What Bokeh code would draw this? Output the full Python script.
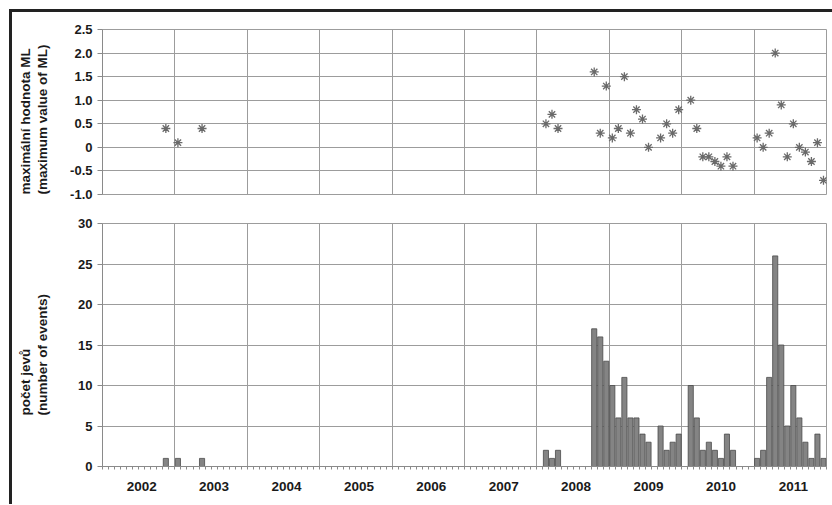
from bokeh.plotting import figure
from bokeh.models import ColumnDataSource, FixedTicker, Grid, Range1d, Title
from bokeh.layouts import column
from bokeh.embed import file_html
from bokeh.resources import INLINE

# ---------------- data ----------------
years = [2002, 2003, 2004, 2005, 2006, 2007, 2008, 2009, 2010, 2011]
year_labels = ["2002", "2003", "2004", "2005", "2006", "2007", "2008", "2009", "2010", "2011"]

# monthly number of events (Jan..Dec)
events_2002 = [0, 0, 0, 0, 0, 0, 0, 0, 0, 0, 1, 0]
events_2003 = [1, 0, 0, 0, 1, 0, 0, 0, 0, 0, 0, 0]
events_2004 = [0, 0, 0, 0, 0, 0, 0, 0, 0, 0, 0, 0]
events_2005 = [0, 0, 0, 0, 0, 0, 0, 0, 0, 0, 0, 0]
events_2006 = [0, 0, 0, 0, 0, 0, 0, 0, 0, 0, 0, 0]
events_2007 = [0, 0, 0, 0, 0, 0, 0, 0, 0, 0, 0, 0]
events_2008 = [0, 2, 1, 2, 0, 0, 0, 0, 0, 17, 16, 13]
events_2009 = [10, 6, 11, 6, 6, 4, 3, 0, 5, 2, 3, 4]
events_2010 = [0, 10, 6, 2, 3, 2, 1, 4, 2, 0, 0, 0]
events_2011 = [1, 2, 11, 26, 15, 5, 10, 6, 3, 1, 4, 1]

# maximum ML per month
ml_months = ["2002-11", "2003-01", "2003-05",
             "2008-02", "2008-03", "2008-04", "2008-10", "2008-11", "2008-12",
             "2009-01", "2009-02", "2009-03", "2009-04", "2009-05", "2009-06", "2009-07",
             "2009-09", "2009-10", "2009-11", "2009-12",
             "2010-02", "2010-03", "2010-04", "2010-05", "2010-06", "2010-07", "2010-08", "2010-09",
             "2011-01", "2011-02", "2011-03", "2011-04", "2011-05", "2011-06", "2011-07",
             "2011-08", "2011-09", "2011-10", "2011-11", "2011-12"]
ml_values = [0.4, 0.1, 0.4,
             0.5, 0.7, 0.4, 1.6, 0.3, 1.3,
             0.2, 0.4, 1.5, 0.3, 0.8, 0.6, 0.0,
             0.2, 0.5, 0.3, 0.8,
             1.0, 0.4, -0.2, -0.2, -0.3, -0.4, -0.2, -0.4,
             0.2, 0.0, 0.3, 2.0, 0.9, -0.2, 0.5,
             0.0, -0.1, -0.3, 0.1, -0.7]

ml_ticks = [-1.0, -0.5, 0.0, 0.5, 1.0, 1.5, 2.0, 2.5]
ml_tick_labels = ["-1.0", "-0.5", "0", "0.5", "1.0", "1.5", "2.0", "2.5"]
count_ticks = [0, 5, 10, 15, 20, 25, 30]

# ---------------- derived ----------------
all_events = (events_2002 + events_2003 + events_2004 + events_2005 + events_2006
              + events_2007 + events_2008 + events_2009 + events_2010 + events_2011)
n_months = len(all_events)
bar_x = [i + 0.5 for i, v in enumerate(all_events) if v > 0]
bar_top = [v for v in all_events if v > 0]


def month_pos(label):
    y, m = label.split("-")
    return (int(y) - years[0]) * 12 + int(m) - 1 + 0.5


ml_x = [month_pos(m) for m in ml_months]
year_bounds = [12 * k for k in range(1, len(years))]
year_centers = [12 * k + 6.5 for k in range(len(years))]
month_bounds = list(range(0, n_months + 1))

GRID = "#9c9c9c"
AXIS = "#8a8a8a"
TXT = "#1a1a1a"
FONT = "Liberation Sans"

W = 820

# ---------------- top: maximum ML ----------------
p1 = figure(width=W, height=192, x_range=Range1d(0, n_months), y_range=Range1d(-1.0, 2.5),
            x_axis_type=None, output_backend="svg", toolbar_location=None, title=None,
            min_border_left=90, min_border_right=6, min_border_top=17, min_border_bottom=10)
p1.yaxis.ticker = FixedTicker(ticks=ml_ticks)
p1.yaxis.major_label_overrides = {t: l for t, l in zip(ml_ticks, ml_tick_labels)}
p1.ygrid.grid_line_color = GRID
p1.add_layout(Grid(dimension=0, ticker=FixedTicker(ticks=year_bounds), grid_line_color=GRID))
p1.scatter(x=ml_x, y=ml_values, marker="asterisk", size=9, line_color="#6a6a6a", line_width=1.3)

# ---------------- bottom: number of events ----------------
p2 = figure(width=W, height=300, x_range=p1.x_range, y_range=Range1d(0, 30),
            output_backend="svg", toolbar_location=None, title=None,
            min_border_left=90, min_border_right=6, min_border_top=19, min_border_bottom=38)
p2.yaxis.ticker = FixedTicker(ticks=count_ticks)
p2.xaxis.ticker = FixedTicker(ticks=year_centers, minor_ticks=month_bounds)
p2.xaxis.major_label_overrides = {c: l for c, l in zip(year_centers, year_labels)}
p2.xgrid.visible = False
p2.add_layout(Grid(dimension=0, ticker=FixedTicker(ticks=year_bounds), grid_line_color=GRID))
p2.ygrid.grid_line_color = GRID
src = ColumnDataSource(dict(x=bar_x, top=bar_top))
p2.vbar(x="x", top="top", bottom=0, width=0.85, source=src,
        fill_color="#848484", line_color="#4a4a4a", line_width=0.8)

for p in (p1, p2):
    p.outline_line_color = GRID
    p.background_fill_color = "white"
    p.border_fill_color = "white"
    p.yaxis.axis_line_color = AXIS
    p.yaxis.major_tick_line_color = AXIS
    p.yaxis.major_tick_out = 5
    p.yaxis.major_tick_in = 0
    p.yaxis.minor_tick_line_color = None
    p.yaxis.major_label_standoff = 5
    p.yaxis.major_label_text_font = FONT
    p.yaxis.major_label_text_font_style = "bold"
    p.yaxis.major_label_text_font_size = "13px"
    p.yaxis.major_label_text_color = TXT

p2.xaxis.axis_line_color = AXIS
p2.xaxis.major_tick_line_color = None
p2.xaxis.major_tick_out = 0
p2.xaxis.major_tick_in = 0
p2.xaxis.minor_tick_line_color = AXIS
p2.xaxis.minor_tick_out = 3
p2.xaxis.minor_tick_in = 0
p2.xaxis.major_label_standoff = 12
p2.xaxis.major_label_text_font = FONT
p2.xaxis.major_label_text_font_style = "bold"
p2.xaxis.major_label_text_font_size = "13.5px"
p2.xaxis.major_label_text_color = TXT


# ---------------- axis titles (rotated, two lines, left-aligned) ----------------
def add_titles(p, outer, inner, gap, offset):
    # invisible spacer between the tick labels and the titles
    p.add_layout(Title(text=" ", text_font_size="1px", standoff=gap, vertical_align="bottom",
                       text_color="white"), "left")
    common = dict(align="left", offset=offset, text_font=FONT, text_font_style="bold",
                  text_font_size="13.5px", text_color=TXT, vertical_align="bottom", standoff=0)
    p.add_layout(Title(text=inner, **common), "left")
    p.add_layout(Title(text=outer, **common), "left")


add_titles(p1, "maximální hodnota ML", "(maximum value of ML)", 15, 0)
add_titles(p2, "počet jevů", "(number of events)", 23, 51)

layout = column(p1, p2, margin=(9, 0, 0, 9),
                styles={"border-top": "3px solid #222222", "border-left": "3px solid #222222"})

open("out.html", "w").write(file_html(layout, INLINE))
